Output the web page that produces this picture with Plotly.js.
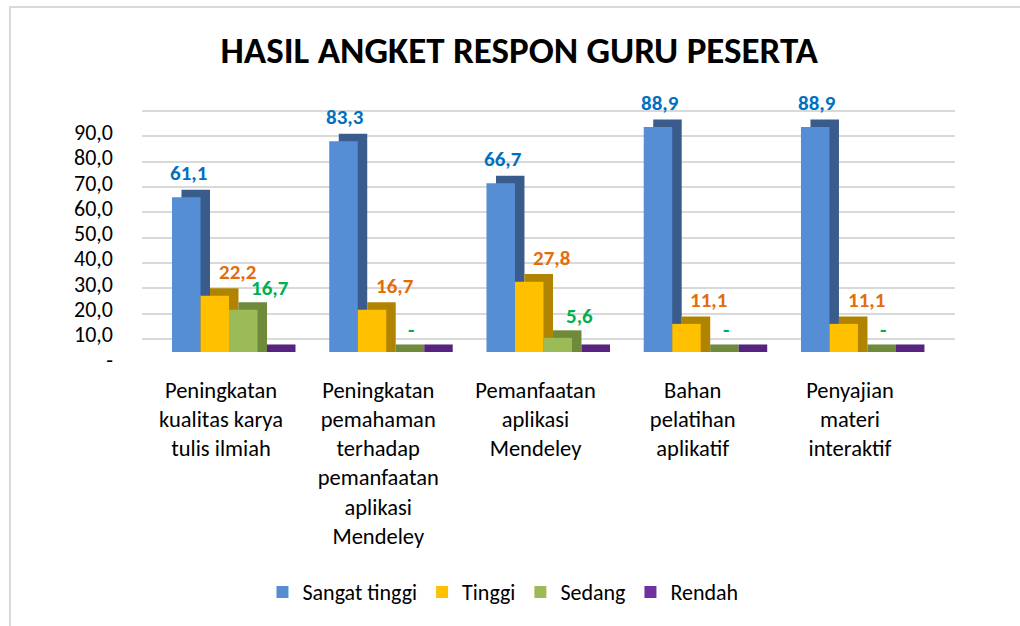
<!DOCTYPE html>
<html>
<head>
<meta charset="utf-8">
<script src="https://cdn.plot.ly/plotly-3.0.1.min.js"></script>
<style>
  html, body { margin: 0; padding: 0; background: #fff; overflow: hidden; }
  #chart { width: 1020px; height: 626px; }
  #frame { position: absolute; left: 9px; top: 6px; width: 1100px; height: 700px;
           border-left: 2px solid #d9d9d9; border-top: 2px solid #d9d9d9; pointer-events: none; }
</style>
</head>
<body>
<div id="chart"></div>
<div id="frame"></div>
<script>
// ---- data ----
const categories = [
  "Peningkatan<br>kualitas karya<br>tulis ilmiah",
  "Peningkatan<br>pemahaman<br>terhadap<br>pemanfaatan<br>aplikasi<br>Mendeley",
  "Pemanfaatan<br>aplikasi<br>Mendeley",
  "Bahan<br>pelatihan<br>aplikatif",
  "Penyajian<br>materi<br>interaktif"
];
const seriesNames = ["Sangat tinggi", "Tinggi", "Sedang", "Rendah"];
const sangatTinggi = [61.1, 83.3, 66.7, 88.9, 88.9];
const tinggi       = [22.2, 16.7, 27.8, 11.1, 11.1];
const sedang       = [16.7, 0, 5.6, 0, 0];
const rendah       = [0, 0, 0, 0, 0];
const yTickVals  = [0, 10, 20, 30, 40, 50, 60, 70, 80, 90];
const yTickText  = ["-", "10,0", "20,0", "30,0", "40,0", "50,0", "60,0", "70,0", "80,0", "90,0"];
const chartTitle = "HASIL ANGKET RESPON GURU PESERTA";

// ---- styles ----
const FONT = "Carlito, Lato, 'Open Sans', sans-serif";
const allValues = [sangatTinggi, tinggi, sedang, rendah];
const frontColors = ["#558ed5", "#ffc000", "#9bbb59", "#7030a0"];
const sideColors  = ["#3a5c8c", "#b08400", "#6e8a3a", "#56247e"];
const labelColors = ["#0070c0", "#e46c0a", "#00b050", null];

const pxPerCat = 157.25;         // pixel width of one category
const barPx = 28.5;              // front face width
const firstLeftPx = -49;         // left edge of first bar relative to category centre
const depthXPx = 9.5, depthYPx = 7.5;
const pxPerUnit = 2.526;
const depthY = depthYPx / pxPerUnit;

const traces = [];
// side/top faces (drawn first)
allValues.forEach((vals, s) => {
  traces.push({
    type: "bar", x: categories.map((c, i) => i), y: vals.map(v => v + depthY), base: 0,
    width: barPx / pxPerCat,
    offset: (firstLeftPx + s * barPx + depthXPx) / pxPerCat,
    marker: { color: sideColors[s], line: { width: 0 } },
    showlegend: false, hoverinfo: "skip"
  });
});
// front faces
allValues.forEach((vals, s) => {
  traces.push({
    type: "bar", name: seriesNames[s], x: categories.map((c, i) => i), y: vals, base: 0,
    width: barPx / pxPerCat,
    offset: (firstLeftPx + s * barPx) / pxPerCat,
    marker: { color: frontColors[s], line: { width: 0 } },
    hoverinfo: "skip"
  });
});
// grid axis (back wall)
traces.push({ type: "scatter", x: [], y: [], yaxis: "y2", showlegend: false, hoverinfo: "skip" });

// data labels
const fmt = v => v === 0 ? "-" : v.toFixed(1).replace(".", ",");
const annotations = [];
const labelAnchor = ["center", "left", "left"];
const labelShift  = [2, 2, 6];
const labelLift   = [24, 24, 22];
allValues.forEach((vals, s) => {
  if (!labelColors[s]) return;
  vals.forEach((v, i) => {
    annotations.push({
      x: i, y: v, xref: "x", yref: "y", text: fmt(v), showarrow: false,
      xanchor: labelAnchor[s], yanchor: "middle",
      xshift: firstLeftPx + s * barPx + barPx / 2 + labelShift[s], yshift: labelLift[s],
      font: { family: FONT, size: 21, color: labelColors[s], weight: "bold" }
    });
  });
});

const yMax = 96;
const layout = {
  width: 1020, height: 626,
  paper_bgcolor: "rgba(0,0,0,0)", plot_bgcolor: "rgba(0,0,0,0)",
  margin: { l: 142, r: 65, t: 109, b: 274 },
  barmode: "overlay",
  title: { text: "<b>" + chartTitle + "</b>", x: 0.509, xref: "container", y: 0.92, yref: "container",
           xanchor: "center", yanchor: "middle",
           font: { family: FONT, size: 37, color: "#000" } },
  xaxis: {
    type: "category", range: [-0.5024, 4.668], showgrid: false, zeroline: false, showline: false,
    tickvals: categories.map((c, i) => i), ticktext: categories, ticks: "",
    tickfont: { family: FONT, size: 22.5, color: "#000" }, ticklabelstandoff: 22, automargin: false
  },
  yaxis: {
    range: [0, yMax], showgrid: false, zeroline: false, showline: false,
    tickvals: yTickVals, ticktext: yTickText, ticks: "", ticklabelshift: 8, ticklabelstandoff: 28,
    tickfont: { family: FONT, size: 22, color: "#000" }, automargin: false
  },
  yaxis2: {
    overlaying: "y", range: [-13 / pxPerUnit, yMax - 13 / pxPerUnit], showgrid: true,
    gridcolor: "#d9d9d9", gridwidth: 2, tickvals: yTickVals, showticklabels: false,
    zeroline: false, showline: false, ticks: ""
  },
  legend: {
    orientation: "h", x: 0.444, xanchor: "center", y: -0.988, yanchor: "middle",
    font: { family: FONT, size: 22, color: "#000" }, traceorder: "normal"
  },
  annotations: annotations,
  showlegend: true
};

Plotly.newPlot("chart", traces, layout, { staticPlot: true, displayModeBar: false });
</script>
</body>
</html>
